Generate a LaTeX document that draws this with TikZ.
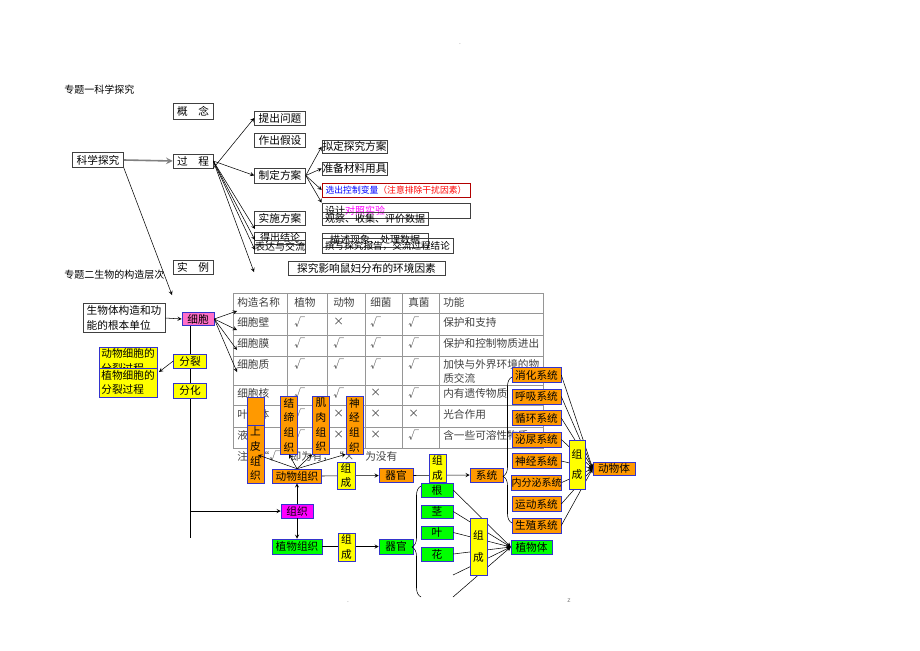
\documentclass[tikz,border=0pt]{standalone}
\usepackage{fontspec}
\setmainfont{Noto Sans CJK SC}
\usepackage{tikz}
\usetikzlibrary{arrows,shapes}
\usetikzlibrary{positioning}
\usetikzlibrary{decorations.pathreplacing}
\newdimen\pxu \pxu=0.75pt
\definecolor{orgF}{RGB}{255,153,0}
\definecolor{yelF}{RGB}{255,255,0}
\definecolor{grnF}{RGB}{0,255,0}
\definecolor{pnkF}{RGB}{255,110,200}
\definecolor{magF}{RGB}{255,0,255}
\definecolor{bdr}{RGB}{51,51,204}
\definecolor{gridc}{RGB}{150,150,150}
\newcommand{\fs}{\fontsize{8}{11}\selectfont}
\newcommand{\fss}{\fontsize{7.5}{11}\selectfont}
\tikzstyle{hit}=[->,>=stealth]
\tikzstyle{Abox}=[draw=black!75,inner sep=0pt,align=center]
\tikzstyle{Aorg}=[draw=bdr,fill=orgF,inner sep=0pt,align=center]
\tikzstyle{Ayel}=[draw=bdr,fill=yelF,inner sep=0pt,align=center]
\tikzstyle{Agrn}=[draw=bdr,fill=grnF,inner sep=0pt]
\tikzstyle{Apnk}=[draw=bdr,fill=pnkF,inner sep=0pt]
\tikzstyle{Amag}=[draw=bdr,fill=magF,inner sep=0pt]
\tikzstyle{cell}=[anchor=west,inner sep=0pt,text=black!75]
\tikzstyle{pmark}=[inner sep=0pt,text=gray,font=\tiny]
\newcommand{\bx}[6]{\node[#1,minimum width=#4\pxu,minimum height=#5\pxu] (#2) at (#3) {#6};}
\newcommand{\trow}[8]{\node[cell] (#1a) at (237,#2) {#3};
  \node[cell] (#1b) at (294,#2) {#4};\node[cell] (#1c) at (333,#2) {#5};
  \node[cell] (#1d) at (370,#2) {#6};\node[cell] (#1e) at (408,#2) {#7};
  \node[cell] (#1f) at (443,#2) {#8};}
\newcommand{\sys}[3]{\bx{Aorg}{#1}{536.5,#2}{49}{15}{#3}}

\begin{document}
\begin{tikzpicture}[x=0.75pt,y=-0.75pt,every node/.style={font=\fs}]
\useasboundingbox (0,0) rectangle (920,650);

\node[pmark] (m1) at (460,44) {.};
\node[pmark] (m2) at (348,602) {.};
\node[pmark] (m3) at (569,601) {z};

% 专题一
\node[anchor=west,inner sep=0pt,font=\fss] (h1) at (64,90) {专题一科学探究};
\bx{Abox}{gn}{193,111}{40}{16}{概\quad 念}
\bx{Abox}{kx}{98,160}{51}{15}{科学探究}
\bx{Abox}{gc}{193,161}{40}{14}{过\quad 程}
\bx{Abox}{sl}{193,267}{40}{14}{实\quad 例}
\bx{Abox}{tw}{280,118}{51}{14}{提出问题}
\bx{Abox}{zj}{280,140}{51}{14}{作出假设}
\bx{Abox}{zd}{280,175.5}{51}{15}{制定方案}
\bx{Abox}{ss}{280,218}{51}{14}{实施方案}
\bx{Abox,font=\fss}{dc}{280,238}{51}{12}{得出结论}
\bx{Abox,font=\fss}{bd}{280,246.5}{51}{13}{表达与交流}
\bx{Abox}{sy}{366.5,268}{157}{14}{探究影响鼠妇分布的环境因素}
\bx{Abox}{nd}{354.5,146.5}{65}{13}{拟定探究方案}
\bx{Abox}{zb}{354.5,168.5}{65}{13}{准备材料用具}
\bx{Abox,draw=red!70!black,font=\fontsize{6.6}{8}\selectfont}{xc}{396,190}{148}{14}{\textcolor{blue}{选出控制变量}\textcolor{red}{（注意排除干扰因素）}}
\bx{Abox,text width=142\pxu,align=left,font=\fss}{sjd}{396,210.5}{148}{15}{设计\textcolor{magF}{对照实验}}
\bx{Abox,font=\fss}{gcs}{375,218.5}{106}{13}{观察、收集、评价数据}
\bx{Abox,font=\fss}{msx}{375,240}{106}{14}{描述现象、处理数据}
\bx{Abox,font=\fontsize{7.2}{9}\selectfont}{zx}{387.5,245.5}{131}{15}{撰写探究报告，交流过程结论}

\coordinate (g1) at (255,229);
\coordinate (g2) at (255,240);
\coordinate (g3) at (255,250);
\coordinate (g4) at (254,272);
\coordinate (kd) at (172,295);
\draw[hit,gray,line width=1.2pt] (kx.east) -- (gc.west);
\draw[hit] (kx.south east) -- (kd);
\draw[hit] (gc.south east) -- (tw.west);
\draw[hit] (gc.east) -- (zd.west);
\draw[hit] (gc.east) -- (g1);
\draw[hit] (gc.east) -- (g2);
\draw[hit] (gc.east) -- (g3);
\draw[hit] (gc.east) -- (g4);
\draw[hit] (zd.east) -- (nd.west);
\draw[hit] (zd.east) -- (zb.west);
\draw[hit] (zd.east) -- (xc.west);
\draw[hit] (zd.east) -- (sjd.north west);

% 专题二
\node[anchor=west,inner sep=0pt,font=\fss] (h2) at (64,275) {专题二生物的构造层次};
\bx{Abox,align=left}{jb}{124,318}{82}{29}{生物体构造和功\\能的根本单位}
\bx{Apnk}{xb}{198,319}{32}{13}{细胞}
\coordinate (vb) at (190,538);
\coordinate (hz) at (190,511);
\draw (vb |- xb.south) -- (vb);
\draw[hit] (jb.east) -- (xb.west);
\bx{Ayel}{fl}{190,361}{33}{14}{分裂}
\bx{Ayel}{fh}{190,390.5}{33}{15}{分化}
\bx{Ayel,align=left}{dw}{128,361}{58}{28}{动物细胞的\\分裂过程}
\bx{Ayel,align=left}{zw}{128,382.5}{58}{29}{植物细胞的\\分裂过程}
\coordinate (fa) at (159,372);
\draw[hit] (fl.west) -- (fa);

% 表格
\draw[gridc] (233,293) rectangle (543,448)
  (233,313) -- (543,313) (233,335) -- (543,335) (233,356) -- (543,356)
  (233,385) -- (543,385) (233,405) -- (543,405) (233,427) -- (543,427)
  (287,293) -- (287,448) (327,293) -- (327,448) (365,293) -- (365,448)
  (402,293) -- (402,448) (439,293) -- (439,448);
\trow{ra}{302}{构造名称}{植物}{动物}{细菌}{真菌}{功能}
\trow{rb}{322}{细胞壁}{√}{×}{√}{√}{保护和支持}
\trow{rc}{343}{细胞膜}{√}{√}{√}{√}{保护和控制物质进出}
\trow{rd}{364}{细胞质}{√}{√}{√}{√}{加快与外界环境的物}
\node[cell] (rdg) at (443,378) {质交流};
\trow{re}{393}{细胞核}{√}{√}{×}{√}{内有遗传物质}
\trow{rf}{414}{叶绿体}{√}{×}{×}{×}{光合作用}
\trow{rg}{435}{液泡}{√}{×}{×}{√}{含一些可溶性物质}
\node[cell] (zhu) at (237,456) {注：“√”即为有，“×”为没有};
\coordinate (r1) at (237,311);
\coordinate (r2) at (237,330);
\coordinate (r3) at (237,350);
\coordinate (r4) at (237,372);
\draw[hit] (xb.east) -- (r1);
\draw[hit] (xb.east) -- (r2);
\draw[hit] (xb.east) -- (r3);
\draw[hit] (xb.east) -- (r4);

% 动物
\bx{Aorg}{sp0}{255.5,411}{17}{28}{}
\bx{Aorg}{sp}{255.5,454}{17}{58}{上\\皮\\组\\织}
\bx{Aorg}{jd}{289,425}{17}{58}{结\\缔\\组\\织}
\bx{Aorg}{jr}{321,425}{17}{58}{肌\\肉\\组\\织}
\bx{Aorg}{sj}{354.5,425}{17}{58}{神\\经\\组\\织}
\bx{Aorg}{dz}{297,476}{49}{14}{动物组织}
\bx{Aorg}{dq}{396,475.5}{34}{14}{器官}
\bx{Aorg}{xt}{486.5,475}{33}{14}{系统}
\draw[hit] (dz.east) -- (dq.west);
\draw[hit] (dq.east) -- (xt.west);
\bx{Ayel}{zc1}{346,475.5}{18}{27}{组\\成}
\bx{Ayel}{zc2}{437.5,468}{17}{28}{组\\成}
\coordinate (spt) at (258,455);
\draw[hit] (dz.north) -- (spt);
\draw[hit] (dz.north) -- (jd.south);
\draw[hit] (dz.north) -- (jr.south west);
\draw[hit] (dz.north) -- (sj.south west);

\sys{xh}{375}{消化系统}
\sys{hx}{396.5}{呼吸系统}
\sys{xhu}{418}{循环系统}
\sys{mn}{439.5}{泌尿系统}
\sys{sjx}{461}{神经系统}
\bx{Aorg,font=\fss}{nf}{536.5,482.5}{49}{15}{内分泌系统}
\sys{yd}{504}{运动系统}
\sys{sz}{525.5}{生殖系统}
\draw[decorate,decoration={brace,amplitude=6.75pt,aspect=0.32}] (512,523) -- (512,377);
\bx{Aorg}{dwt}{614,468.5}{42}{13}{动物体}
\draw[hit] (xh.east) -- (dwt.west);
\draw[hit] (hx.east) -- (dwt.west);
\draw[hit] (xhu.east) -- (dwt.west);
\draw[hit] (mn.east) -- (dwt.west);
\draw[hit] (sjx.east) -- (dwt.west);
\draw[hit] (nf.east) -- (dwt.west);
\draw[hit] (yd.east) -- (dwt.west);
\draw[hit] (sz.east) -- (dwt.west);
\bx{Ayel}{zc3}{577,464.5}{16}{49}{组\\[4pt]成}

% 植物
\bx{Amag}{zz}{297,511}{32}{14}{组织}
\draw[hit] (hz) -- (zz.west);
\draw[hit] (zz.north) -- (dz.south);
\bx{Agrn}{zwz}{297,546.5}{50}{15}{植物组织}
\draw[hit] (zz.south) -- (zwz.north);
\bx{Agrn}{zq}{396,546.5}{34}{15}{器官}
\draw[hit] (zwz.east) -- (zq.west);
\bx{Ayel}{zc4}{346.5,547}{17}{28}{组\\成}
\draw[decorate,decoration={brace,amplitude=6.75pt,aspect=0.45}] (421,597) -- (421,486);
\bx{Agrn}{gen}{437,490}{32}{14}{根}
\bx{Agrn}{jing}{437,511.5}{32}{13}{茎}
\bx{Agrn}{ye}{437,532.5}{32}{13}{叶}
\bx{Agrn}{hua}{437,554}{32}{14}{花}
\bx{Agrn}{zwt}{531.5,547}{41}{14}{植物体}
\coordinate (p5) at (453,575);
\coordinate (p6) at (453,597);
\draw[hit] (gen.east) -- (zwt.west);
\draw[hit] (jing.east) -- (zwt.west);
\draw[hit] (ye.east) -- (zwt.west);
\draw[hit] (hua.east) -- (zwt.west);
\draw[hit] (p5) -- (zwt.west);
\draw[hit] (p6) -- (zwt.west);
\bx{Ayel}{zc5}{478.5,546.5}{17}{57}{组\\[6pt]成}
\end{tikzpicture}
\end{document}
